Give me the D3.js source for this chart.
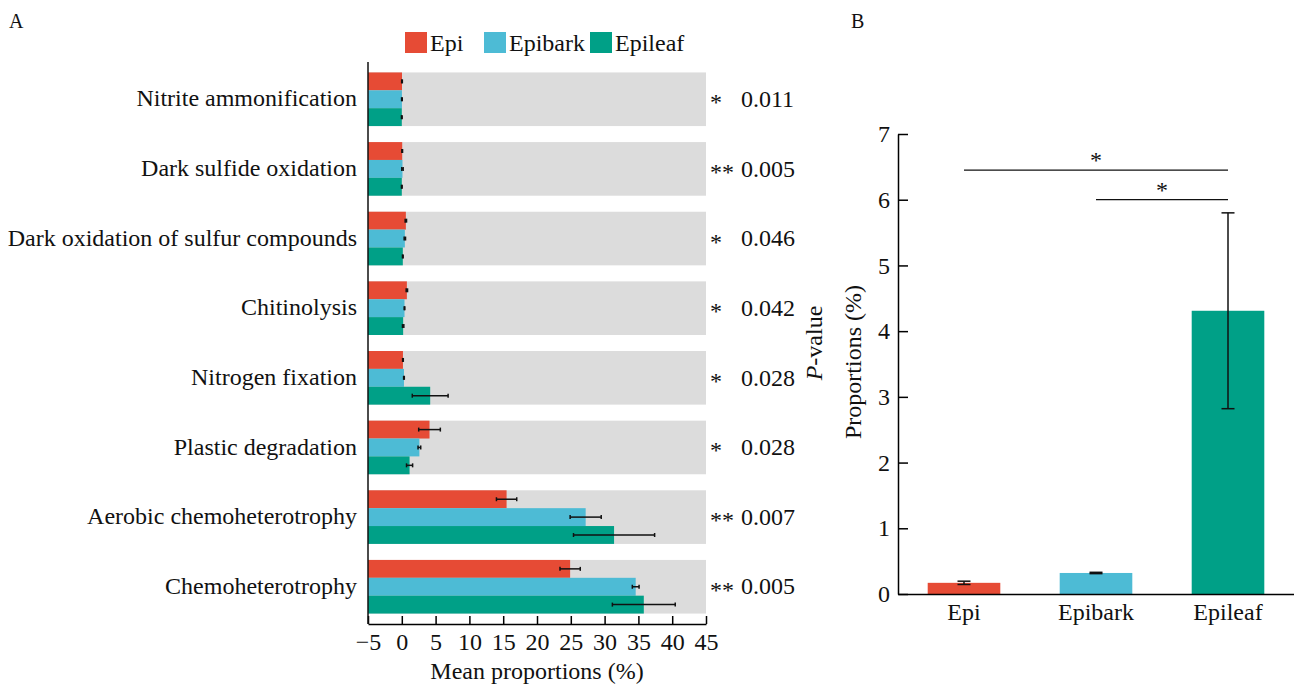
<!DOCTYPE html>
<html>
<head>
<meta charset="utf-8">
<script src="https://cdn.jsdelivr.net/npm/d3@7"></script>
<style>
  body { margin: 0; background: #fff; }
  svg text { font-family: "Liberation Serif", "Times New Roman", serif; fill: #111; }
</style>
</head>
<body>
<svg id="chart" width="1294" height="684" font-family="Liberation Serif"></svg>
<script>
// ---- panel A data ----
const categories = ["Nitrite ammonification", "Dark sulfide oxidation", "Dark oxidation of sulfur compounds",
  "Chitinolysis", "Nitrogen fixation", "Plastic degradation", "Aerobic chemoheterotrophy", "Chemoheterotrophy"];
const groups = ["Epi", "Epibark", "Epileaf"];
const epiMean = [0.03, 0.06, 0.6, 0.75, 0.17, 4.1, 15.5, 24.9];
const epibarkMean = [0.02, 0.1, 0.45, 0.4, 0.32, 2.6, 27.2, 34.6];
const epileafMean = [0.0, 0.0, 0.15, 0.2, 4.2, 1.15, 31.4, 35.8];
const epiErr = [0.05, 0.05, 0.1, 0.1, 0.05, 1.6, 1.5, 1.5];
const epibarkErr = [0.05, 0.1, 0.1, 0.05, 0.05, 0.2, 2.3, 0.5];
const epileafErr = [0.05, 0.05, 0.05, 0.1, 2.65, 0.45, 6.0, 4.65];
const stars = ["*", "**", "*", "*", "*", "*", "**", "**"];
const pValues = ["0.011", "0.005", "0.046", "0.042", "0.028", "0.028", "0.007", "0.005"];
const xTicksA = [-5, 0, 5, 10, 15, 20, 25, 30, 35, 40, 45];

// ---- panel B data (nitrogen fixation) ----
const bMean = [0.17, 0.32, 4.31];
const bErr = [0.025, 0.01, 1.49];
const yTicksB = [0, 1, 2, 3, 4, 5, 6, 7];
// significance brackets: [from group, to group, level, label]
const brackets = [["Epi", "Epileaf", 6.45, "*"], ["Epibark", "Epileaf", 6.0, "*"]];

const colors = ["#E64B35", "#4DBBD5", "#00A087"];
const color = d3.scaleOrdinal().domain(groups).range(colors);
const FS = "24px";

const svg = d3.select("#chart");

// panel letters
svg.append("text").attr("x", 9).attr("y", 28).style("font-size", "20px").text("A");
svg.append("text").attr("x", 851).attr("y", 28).style("font-size", "20px").text("B");

// ================= Panel A =================
const a = {left: 368, right: 706, top: 62, bottom: 624};
const x = d3.scaleLinear().domain([-5, 45]).range([a.left, a.right]);
const y = d3.scaleBand().domain(categories).range([a.top, a.bottom]).paddingInner(0.23).paddingOuter(0.15);
const ySub = d3.scaleBand().domain(groups).range([0, y.bandwidth()]);

const rows = categories.map((c, i) => ({
  cat: c, star: stars[i], p: pValues[i],
  vals: [
    {g: "Epi", v: epiMean[i], e: epiErr[i]},
    {g: "Epibark", v: epibarkMean[i], e: epibarkErr[i]},
    {g: "Epileaf", v: epileafMean[i], e: epileafErr[i]}
  ]
}));

const chartA = svg.append("g");

// grey background bands
chartA.selectAll(".bg").data(rows).enter().append("rect")
  .attr("x", x(-5)).attr("width", x(45) - x(-5))
  .attr("y", d => y(d.cat)).attr("height", y.bandwidth())
  .attr("fill", "#dcdcdc");

const rowG = chartA.selectAll(".row").data(rows).enter().append("g")
  .attr("transform", d => `translate(0,${y(d.cat)})`);

rowG.selectAll("rect.bar").data(d => d.vals).enter().append("rect")
  .attr("class", "bar")
  .attr("x", x(-5))
  .attr("width", d => x(d.v) - x(-5))
  .attr("y", d => ySub(d.g)).attr("height", ySub.bandwidth())
  .attr("fill", d => color(d.g));

// error bars
const eb = rowG.selectAll("g.err").data(d => d.vals).enter().append("g")
  .attr("transform", d => `translate(0,${ySub(d.g) + ySub.bandwidth() / 2})`)
  .attr("stroke", "#111").attr("stroke-width", 1.5);
eb.append("line").attr("x1", d => x(d.v - d.e)).attr("x2", d => x(d.v + d.e)).attr("y1", 0).attr("y2", 0);
eb.append("line").attr("x1", d => x(d.v - d.e)).attr("x2", d => x(d.v - d.e)).attr("y1", -2).attr("y2", 2);
eb.append("line").attr("x1", d => x(d.v + d.e)).attr("x2", d => x(d.v + d.e)).attr("y1", -2).attr("y2", 2);

// category labels
chartA.selectAll(".cat").data(rows).enter().append("text")
  .attr("x", 357).attr("y", d => y(d.cat) + y.bandwidth() / 2)
  .attr("dy", "0.3em").attr("text-anchor", "end")
  .style("font-size", FS).text(d => d.cat);

// stars and p-values
chartA.selectAll(".star").data(rows).enter().append("text")
  .attr("x", 710).attr("y", d => y(d.cat) + y.bandwidth() / 2 + 11)
  .style("font-size", FS).text(d => d.star);
chartA.selectAll(".pv").data(rows).enter().append("text")
  .attr("x", 741).attr("y", d => y(d.cat) + y.bandwidth() / 2)
  .attr("dy", "0.32em").style("font-size", FS).text(d => d.p);

// P-value axis title
svg.append("text")
  .attr("transform", `translate(822,${(a.top + a.bottom) / 2}) rotate(-90)`)
  .attr("text-anchor", "middle").style("font-size", FS)
  .call(t => { t.append("tspan").style("font-style", "italic").text("P"); t.append("tspan").text("-value"); });

// axes
const xAxisA = chartA.append("g").attr("transform", `translate(0,${a.bottom})`)
  .call(d3.axisBottom(x).tickValues(xTicksA).tickSize(-8).tickPadding(9).tickSizeOuter(0));
xAxisA.attr("font-family", null).attr("font-size", null);
xAxisA.select(".domain").attr("stroke-width", 1.5);
xAxisA.selectAll(".tick line").attr("stroke-width", 1.5);
xAxisA.selectAll("text").style("font-size", FS);

chartA.append("line").attr("x1", a.left).attr("x2", a.left).attr("y1", a.top).attr("y2", a.bottom)
  .attr("stroke", "#111").attr("stroke-width", 1.5);

svg.append("text").attr("x", (a.left + a.right) / 2).attr("y", 679)
  .attr("text-anchor", "middle").style("font-size", FS).text("Mean proportions (%)");

// legend
const legX = [405, 484, 590];
const leg = svg.append("g").selectAll("g").data(groups).enter().append("g")
  .attr("transform", (d, i) => `translate(${legX[i]},32)`);
leg.append("rect").attr("width", 22).attr("height", 21).attr("fill", d => color(d));
leg.append("text").attr("x", 25).attr("y", 11).attr("dy", "0.33em").style("font-size", FS).text(d => d);

// ================= Panel B =================
const b = {left: 898, right: 1294, top: 134, bottom: 594};
const xB = d3.scaleBand().domain(groups).range([b.left, b.right]).paddingInner(0.45).paddingOuter(0.225);
const yB = d3.scaleLinear().domain([0, 7]).range([b.bottom, b.top]);
const bData = groups.map((g, i) => ({g: g, v: bMean[i], e: bErr[i]}));

const chartB = svg.append("g");
chartB.selectAll("rect").data(bData).enter().append("rect")
  .attr("x", d => xB(d.g)).attr("width", xB.bandwidth())
  .attr("y", d => yB(d.v)).attr("height", d => yB(0) - yB(d.v))
  .attr("fill", d => color(d.g));

const ebB = chartB.selectAll("g.err").data(bData).enter().append("g")
  .attr("transform", d => `translate(${xB(d.g) + xB.bandwidth() / 2},0)`)
  .attr("stroke", "#111").attr("stroke-width", 1.5);
ebB.append("line").attr("x1", 0).attr("x2", 0).attr("y1", d => yB(d.v - d.e)).attr("y2", d => yB(d.v + d.e));
ebB.append("line").attr("x1", -6.5).attr("x2", 6.5).attr("y1", d => yB(d.v - d.e)).attr("y2", d => yB(d.v - d.e));
ebB.append("line").attr("x1", -6.5).attr("x2", 6.5).attr("y1", d => yB(d.v + d.e)).attr("y2", d => yB(d.v + d.e));

const yAxisB = chartB.append("g").attr("transform", `translate(${b.left},0)`)
  .call(d3.axisLeft(yB).tickValues(yTicksB).tickFormat(d3.format("d")).tickSize(-10).tickPadding(8).tickSizeOuter(0));
yAxisB.attr("font-family", null).attr("font-size", null);
yAxisB.select(".domain").attr("stroke-width", 1.5);
yAxisB.selectAll(".tick line").attr("stroke-width", 1.5);
yAxisB.selectAll("text").style("font-size", FS);

const xAxisB = chartB.append("g").attr("transform", `translate(0,${b.bottom})`)
  .call(d3.axisBottom(xB).tickSize(0).tickPadding(9).tickSizeOuter(0));
xAxisB.attr("font-family", null).attr("font-size", null);
xAxisB.select(".domain").attr("stroke-width", 1.5);
xAxisB.selectAll("text").style("font-size", FS);

// significance brackets
const mid = g => xB(g) + xB.bandwidth() / 2;
brackets.forEach(([g1, g2, lvl, lab]) => {
  chartB.append("line").attr("x1", mid(g1)).attr("x2", mid(g2)).attr("y1", yB(lvl)).attr("y2", yB(lvl))
    .attr("stroke", "#111").attr("stroke-width", 1.2);
  chartB.append("text").attr("x", (mid(g1) + mid(g2)) / 2).attr("y", yB(lvl) - 2)
    .attr("text-anchor", "middle").style("font-size", FS).text(lab);
});

svg.append("text")
  .attr("transform", `translate(861,362) rotate(-90)`)
  .attr("text-anchor", "middle").style("font-size", FS).text("Proportions (%)");
</script>
</body>
</html>
